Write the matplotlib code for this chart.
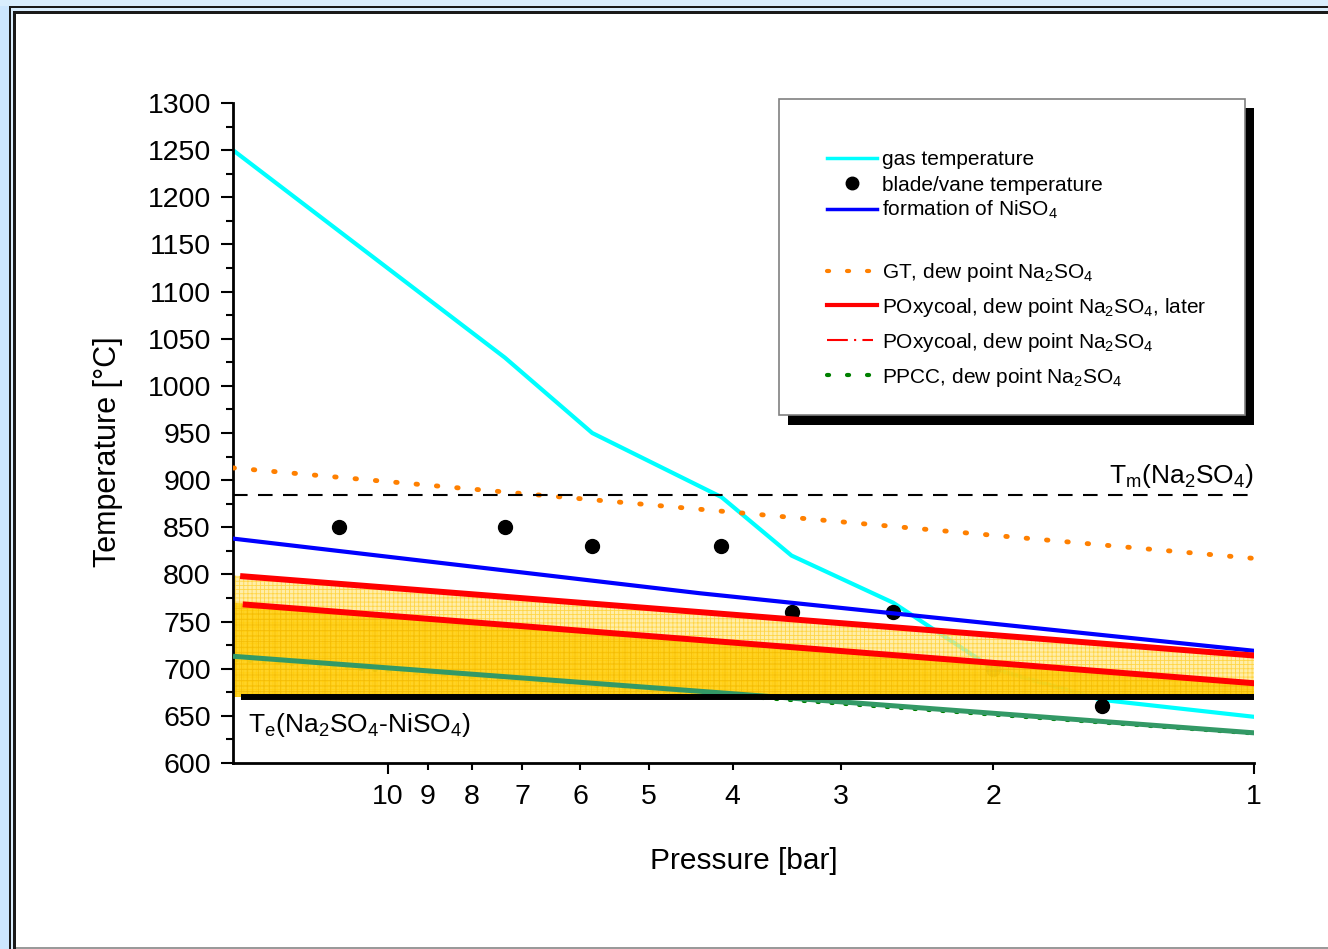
import matplotlib.pyplot as plt
from matplotlib.patches import Rectangle
from matplotlib.lines import Line2D
from matplotlib.ticker import MultipleLocator

plt.rcParams['font.family'] = ['Liberation Sans', 'DejaVu Sans']
plt.rcParams['mathtext.fontset'] = 'custom'
plt.rcParams['mathtext.rm'] = 'Liberation Sans'
plt.rcParams['mathtext.it'] = 'Liberation Sans'
plt.rcParams['mathtext.default'] = 'regular'
plt.rcParams['hatch.linewidth'] = 0.6

# --- data (pressure in bar, temperature in degC) ---
gas_p = [15.1, 7.33, 5.81, 4.12, 3.42, 2.61, 2.0, 1.5, 1.0]
gas_T = [1250, 1030, 950, 882, 820, 770, 700, 667, 649]

blade_p = [11.4, 7.33, 5.81, 4.12, 3.42, 2.61, 2.0, 1.5]
blade_T = [850, 850, 830, 830, 760, 760, 700, 660]

niso4_p = [15.1, 4.36, 1.0]
niso4_T = [838, 780, 719]

gt_p = [15.1, 1.0]
gt_T = [913, 817]

oxy_later_p = [14.7, 1.0]
oxy_later_T = [798, 714]

oxy_p = [14.6, 0.98]
oxy_T = [768, 684]

ppcc_p = [15.0, 1.0]
ppcc_T = [713, 632]
ppcc_dot_T = [709, 631]

fill_p = [15.1, 0.98]
fill_top = [799, 713]
fill_mid = [770, 684]

T_m = 884          # melting point Na2SO4
T_e = 670          # eutectic Na2SO4-NiSO4
T_e_p = [14.8, 0.99]

x_major = [10, 1]
x_minor = [9, 8, 7, 6, 5, 4, 3, 2]

W, H = 1328, 949
bg = '#D9EDFD'
fig = plt.figure(figsize=(W / 100, H / 100), dpi=100, facecolor=bg)


def px_rect(x0, y0, x1, y1, **kw):
    # rectangle given in picture pixels (origin top left)
    r = Rectangle((x0 / W, 1 - y1 / H), (x1 - x0) / W, (y1 - y0) / H,
                  transform=fig.transFigure, lw=0, **kw)
    fig.add_artist(r)
    return r


# slide frame: double black line, white inside
px_rect(0, 6, 9, 949, color='#CCE6FE', zorder=-11)
px_rect(9, 6, 1400, 960, color='#1a1a1a', zorder=-10)
px_rect(11, 8, 1400, 960, color=bg, zorder=-9)
px_rect(13, 11, 1400, 960, color='#1a1a1a', zorder=-8)
px_rect(16, 14, 1400, 946.5, color='white', zorder=-7)
px_rect(16, 946.5, 1400, 960, color='#9a9a9a', zorder=-6)

ax = fig.add_axes([233 / W, 1 - 763 / H, (1254 - 233) / W, (763 - 103) / H])
ax.patch.set_visible(False)
ax.set_xscale('log')

# things lying under the shaded zone
ax.plot(gas_p, gas_T, color='#00FFFF', lw=3, zorder=1)
ax.plot(blade_p, blade_T, 'o', color='black', ms=10, zorder=1.5)
ax.plot(ppcc_p, ppcc_dot_T, color='#008000', lw=2.5, ls=(0, (0.5, 3.5)),
        dash_capstyle='round', zorder=1)

# shaded zone between eutectic and the dew points
ax.fill_between(fill_p, T_e, fill_top, facecolor='#FFE888', edgecolor='#FFCC22',
                hatch='++++', lw=0, alpha=0.72, zorder=2)
ax.fill_between(fill_p, T_e, fill_mid, facecolor='#FFCC00', edgecolor='#F2B800',
                hatch='+++', lw=0, alpha=0.78, zorder=2.1)

ax.plot(gt_p, gt_T, color='#FF8000', lw=3.5, ls=(0, (0.3, 3.9)),
        dash_capstyle='round', zorder=3)
ax.plot(niso4_p, niso4_T, color='#0000FF', lw=3, zorder=3)
ax.plot(oxy_later_p, oxy_later_T, color='#FF0000', lw=4.3, zorder=3.2)
ax.plot(oxy_p, oxy_T, color='#FF0000', lw=4.3, zorder=3.2)
ax.plot(ppcc_p, ppcc_T, color='#339966', lw=3.6, zorder=3.1)
ax.plot(T_e_p, [T_e, T_e], color='black', lw=4.3, zorder=3.3, solid_capstyle='butt')
ax.axhline(T_m, color='black', lw=1.5, ls=(0, (7, 5)), zorder=3)

ax.text(1.0, 897, 'T$_m$(Na$_2$SO$_4$)', fontsize=19, ha='right', va='baseline')
ax.text(14.5, 633, 'T$_e$(Na$_2$SO$_4$-NiSO$_4$)', fontsize=19, ha='left', va='baseline')

ax.set_xlim(15.1, 1.0)
ax.set_ylim(600, 1300)
ax.set_xticks(x_major)
ax.set_xticklabels([str(v) for v in x_major])
ax.set_xticks(x_minor, minor=True)
ax.set_xticklabels([str(v) for v in x_minor], minor=True)
ax.set_yticks(range(600, 1301, 50))
ax.yaxis.set_minor_locator(MultipleLocator(25))

ax.tick_params(axis='y', which='major', length=9, width=1.5, pad=7, labelsize=20.5)
ax.tick_params(axis='y', which='minor', length=5, width=1.5)
ax.tick_params(axis='x', which='major', length=8, width=1.5, pad=7, labelsize=20.5)
ax.tick_params(axis='x', which='minor', length=5, width=1.5, pad=10, labelsize=20.5)
for s in ['top', 'right']:
    ax.spines[s].set_visible(False)
for s in ['left', 'bottom']:
    ax.spines[s].set_linewidth(2)

ax.set_xlabel('Pressure [bar]', fontsize=21.5)
ax.set_ylabel('Temperature [°C]', fontsize=22)
ax.xaxis.set_label_coords(0.5005, -0.127)
ax.yaxis.set_label_coords(-0.108, 0.471)

# legend box with drop shadow, drawn by hand in picture pixels
px_rect(788, 108, 1254, 425, color='black', zorder=5)
box = px_rect(779, 99, 1245, 415, facecolor='white', zorder=6)
box.set_edgecolor('#808080')
box.set_linewidth(1.2)


def fx(x):
    return x / W


def fy(y):
    return 1 - y / H


def leg_line(y, **kw):
    fig.add_artist(Line2D([fx(827), fx(877)], [fy(y), fy(y)],
                          transform=fig.transFigure, zorder=7, **kw))


leg_line(158, color='#00FFFF', lw=2.5)
fig.add_artist(Line2D([fx(852)], [fy(183)], transform=fig.transFigure, zorder=7,
                      marker='o', ms=9, color='black', ls='none'))
leg_line(209, color='#0000FF', lw=2.5)
leg_line(271, color='#FF8000', lw=3, ls=(0, (0.5, 4.3)), dash_capstyle='round')
leg_line(305, color='#FF0000', lw=3)
fig.add_artist(Line2D([fx(827), fx(873)], [fy(340), fy(340)], transform=fig.transFigure,
                      zorder=7, color='#FF0000', lw=1.5, ls=(0, (10, 3, 1, 3))))
leg_line(375, color='#008000', lw=3, ls=(0, (0.5, 4.3)), dash_capstyle='round')

leg_labels = ['gas temperature',
              'blade/vane temperature',
              'formation of NiSO$_4$',
              'GT, dew point Na$_2$SO$_4$',
              'POxycoal, dew point Na$_2$SO$_4$, later',
              'POxycoal, dew point Na$_2$SO$_4$',
              'PPCC, dew point Na$_2$SO$_4$']
leg_base = [165, 191, 216, 278, 313, 348, 383]
for lab, yb in zip(leg_labels, leg_base):
    fig.text(fx(882), fy(yb), lab, fontsize=15, ha='left', va='baseline', zorder=8)

fig.savefig('out.png', dpi=100, facecolor=fig.get_facecolor())
